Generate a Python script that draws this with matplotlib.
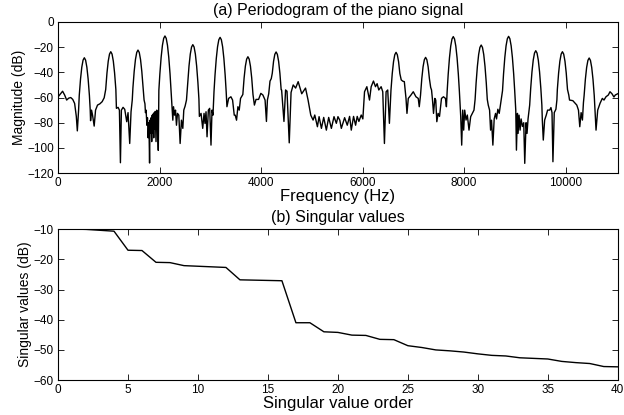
import numpy as np
import matplotlib
matplotlib.use("Agg")
import matplotlib.pyplot as plt

plt.rcParams['font.family'] = ['Liberation Sans', 'DejaVu Sans']

# (a) periodogram: frequency (Hz) and magnitude (dB)
freq_hz = [
    0, 50, 90, 130, 170, 210, 250, 290, 327, 360, 380, 405,
    418, 443, 468, 493, 518, 543, 568, 593, 618,
    634, 641, 660, 680, 712, 739, 778, 824, 869, 909,
    939, 964, 989, 1014, 1039, 1064, 1089, 1114, 1139,
    1150, 1183, 1209, 1229, 1248, 1281, 1314, 1353, 1379, 1412, 1438, 1462,
    1475, 1500, 1525, 1550, 1575, 1600, 1625, 1650, 1675, 1695,
    1712, 1722, 1735, 1750, 1762, 1775, 1790, 1803, 1812, 1825, 1835, 1845,
    1855, 1865, 1875, 1885, 1895, 1905, 1915, 1930, 1945, 1960, 1975,
    1986, 2006, 2031, 2056, 2081, 2106, 2131, 2156, 2181, 2206, 2226,
    2242, 2261, 2275, 2294, 2314, 2333, 2353, 2379, 2405, 2431, 2458, 2477, 2503, 2530,
    2555, 2580, 2605, 2630, 2655, 2680, 2705, 2730, 2755, 2775,
    2784, 2817, 2850, 2876, 2895, 2915, 2935, 2961, 2987, 3013, 3033, 3052,
    3072, 3092, 3117, 3142, 3167, 3192, 3217, 3242, 3267, 3292, 3312,
    3327, 3360, 3405, 3438, 3471, 3490, 3516, 3543, 3569, 3595,
    3640, 3665, 3690, 3715, 3740, 3765, 3790, 3815, 3840,
    3868, 3900, 3950, 3995, 4035, 4078, 4105, 4124, 4150,
    4175, 4200, 4220, 4245, 4270, 4295, 4320, 4345, 4370, 4395,
    4404, 4450, 4482, 4510, 4554, 4590, 4632, 4680, 4730, 4800, 4875, 4925, 4978,
    5024, 5057, 5109, 5142, 5188, 5233, 5285, 5331, 5384, 5436, 5482, 5514, 5550,
    5580, 5645, 5697, 5743, 5776, 5821, 5861, 5893, 5926, 5972, 6004,
    6037, 6083, 6135, 6168, 6213, 6253, 6285, 6318, 6364, 6396, 6429, 6462, 6494, 6527,
    6558, 6583, 6608, 6633, 6658, 6683, 6708, 6733, 6760, 6790, 6821, 6840,
    6854, 6873, 6899, 6952, 6997, 7050, 7095, 7115,
    7140, 7165, 7190, 7215, 7240, 7265, 7290, 7315, 7340, 7357,
    7376, 7396, 7422, 7440, 7461, 7487, 7514, 7553, 7592, 7631, 7650,
    7665, 7685, 7710, 7735, 7760, 7785, 7810, 7835, 7860, 7885, 7905,
    7932, 7951, 7971, 7990, 8010, 8036, 8062, 8095, 8128, 8160, 8193,
    8215, 8235, 8260, 8285, 8310, 8335, 8360, 8385, 8410, 8435, 8455,
    8474, 8500, 8520, 8539, 8565, 8591, 8618, 8637, 8663, 8690, 8720,
    8755, 8775, 8800, 8825, 8850, 8875, 8900, 8925, 8950, 8975, 8995,
    9016, 9029, 9049, 9062, 9081, 9101, 9121, 9147, 9173, 9193, 9219, 9238, 9258,
    9290, 9310, 9335, 9360, 9385, 9410, 9435, 9460, 9485, 9510, 9530,
    9539, 9558, 9585, 9617, 9643, 9683, 9709, 9730, 9748, 9774, 9807, 9826,
    9835, 9860, 9885, 9910, 9935, 9960, 9985, 10010, 10035,
    10060, 10075, 10140, 10186, 10218, 10251, 10277, 10303, 10329, 10349,
    10362, 10387, 10412, 10437, 10462, 10487, 10512, 10537, 10562,
    10597, 10630, 10676, 10721, 10754, 10793, 10839, 10872, 10911, 10950, 10976, 11025,
]
mag_db = [
    -59.5, -57, -55, -58, -62, -60.5, -60, -61.5, -64.7, -75, -86.5, -70,
    -58.4, -45.3, -35.9, -30.3, -28.4, -30.3, -35.9, -45.3, -58.4,
    -70, -78.4, -70, -74, -82.7, -70, -66, -65, -63.3, -60.2,
    -53.6, -40.5, -31.1, -25.5, -23.6, -25.5, -31.1, -40.5, -53.6,
    -68.6, -67.8, -70, -111.8, -70, -67.8, -69.4, -79.2, -72, -96.5, -71.3, -62,
    -52.3, -39.2, -29.8, -24.2, -22.3, -24.2, -29.8, -39.2, -52.3, -62,
    -65, -72, -70, -82, -76, -92, -80, -112, -78, -88, -76, -95,
    -74, -88, -73, -92, -72, -85, -71, -95, -70, -80, -102,
    -54.3, -41.1, -28, -18.6, -13, -11.1, -13, -18.6, -28, -41.1, -54.3,
    -66, -78, -67.3, -74, -70, -82, -72.6, -74, -96.5, -78, -84.5, -70, -66.8, -62,
    -48, -34.9, -25.5, -19.9, -18, -19.9, -25.5, -34.9, -48, -61.2,
    -75, -72.6, -84.5, -72.6, -80.6, -71.3, -91.2, -70, -68.6, -97.8, -70, -74,
    -55.4, -42.2, -29.1, -19.7, -14.1, -12.2, -14.1, -19.7, -29.1, -42.2, -55.4,
    -67.3, -60.7, -59.4, -62, -74, -74, -78, -67.3, -70, -60.7,
    -57.6, -44.5, -35.1, -29.5, -27.6, -29.5, -35.1, -44.5, -57.6,
    -66, -61.5, -61.5, -56.7, -58, -62, -79, -62, -57,
    -47, -45, -40.7, -31.3, -25.7, -23.8, -25.7, -31.3, -40.7, -53.8,
    -54, -79, -54, -55, -96, -56, -50, -52.5, -47.4, -57, -52.5, -62, -74,
    -77.9, -73.9, -83.2, -75.2, -84.5, -75.8, -85.9, -75.8, -84.5, -75.2, -80.5, -75.2, -78,
    -84.5, -76, -82, -75, -85.9, -75, -82, -75, -79, -73.9, -77,
    -55.4, -51.4, -62, -51.4, -46.9, -51.4, -49, -54, -51.4, -55.4, -96.5, -55.4, -54, -80.5,
    -54.1, -41, -31.6, -26, -24.1, -26, -31.6, -41, -46, -47, -47.4, -55,
    -60.7, -72.6, -60.7, -58, -55.4, -59.4, -60.7, -67.3,
    -58.1, -45, -35.6, -30, -28.1, -30, -35.6, -45, -52, -54,
    -62, -72.6, -60.7, -62, -79.2, -72.6, -75, -60.7, -59.4, -60.7, -67.3,
    -54.8, -41.6, -28.5, -19.1, -13.5, -11.6, -13.5, -19.1, -28.5, -41.6, -54.8,
    -75.2, -97.8, -70, -85.9, -70, -77.9, -73.9, -85.9, -75.2, -72.6, -70,
    -61.5, -48.3, -35.2, -25.8, -20.2, -18.3, -20.2, -25.8, -35.2, -48.3, -61.5,
    -66, -70, -85.9, -78, -97.8, -77, -72.6, -77, -69.3, -72.6, -64,
    -54.6, -41.4, -28.3, -18.9, -13.3, -11.4, -13.3, -18.9, -28.3, -41.4, -54.6,
    -70, -101.8, -72.6, -88.5, -74, -85.9, -77, -83, -80, -112.3, -80, -88.5, -77,
    -66, -52.8, -39.7, -30.3, -24.7, -22.8, -24.7, -30.3, -39.7, -52.8, -66,
    -77.9, -93.8, -77.9, -73.9, -70, -70, -68, -72, -111, -72, -69.3, -62,
    -53.6, -40.5, -31.1, -25.5, -23.6, -25.5, -31.1, -40.5, -53.6,
    -58, -62, -62.5, -64.6, -66, -70, -83.2, -72, -77.9, -64,
    -58.6, -45.5, -36.1, -30.5, -28.6, -30.5, -36.1, -45.5, -58.6,
    -85.9, -70, -64.6, -60.7, -62, -59.4, -58, -55.4, -57, -59.6, -58, -57,
]

# (b) singular values (dB) against their order
sv_order = list(range(41))
sv_db = [
    -10, -10, -10.1, -10.4, -10.7, -17, -17.1, -21, -21.1, -22.1,
    -22.3, -22.5, -22.7, -26.8, -26.9, -27, -27.1, -41, -41, -44,
    -44.2, -45.1, -45.2, -46.5, -46.6, -48.6, -49.2, -50, -50.3, -50.7,
    -51.3, -51.8, -52, -52.6, -52.8, -53, -53.8, -54.2, -54.5, -55.5,
    -55.6,
]

fig = plt.figure(figsize=(6.24, 4.15), dpi=100)

def style(ax):
    ax.tick_params(direction='in', top=True, right=True, length=4, width=0.6, labelsize=8.5, pad=3)
    for s in ax.spines.values():
        s.set_linewidth(0.8)

ax1 = fig.add_axes([0.093, 0.583, 0.897, 0.364])
ax1.plot(freq_hz, mag_db, color='black', lw=1.0)
ax1.set_xlim(0, 11025)
ax1.set_ylim(-120, 0)
ax1.set_xticks([0, 2000, 4000, 6000, 8000, 10000])
ax1.set_yticks(np.arange(-120, 1, 20))
ax1.set_title('(a) Periodogram of the piano signal', fontsize=11.5, pad=5)
ax1.set_xlabel('Frequency (Hz)', fontsize=12, labelpad=0)
ax1.set_ylabel('Magnitude (dB)', fontsize=10, labelpad=1)
style(ax1)

ax2 = fig.add_axes([0.093, 0.084, 0.897, 0.364])
ax2.plot(sv_order, sv_db, color='black', lw=1.0)
ax2.set_xlim(0, 40)
ax2.set_ylim(-60, -10)
ax2.set_xticks(np.arange(0, 41, 5))
ax2.set_yticks(np.arange(-60, -9, 10))
ax2.set_title('(b) Singular values', fontsize=11.5, pad=5)
ax2.set_xlabel('Singular value order', fontsize=12, labelpad=0)
ax2.set_ylabel('Singular values (dB)', fontsize=10, labelpad=1)
style(ax2)

fig.savefig('out.png', dpi=100)
